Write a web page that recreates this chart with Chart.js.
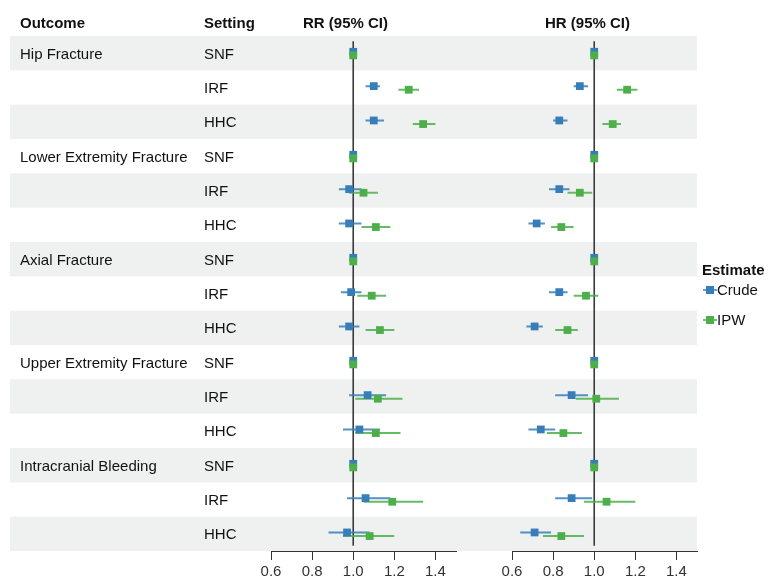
<!DOCTYPE html>
<html>
<head>
<meta charset="utf-8">
<script src="https://cdn.jsdelivr.net/npm/chart.js@4.4.1/dist/chart.umd.min.js"></script>
<style>
  body { margin: 0; background: #fff; }
  #wrap { position: relative; width: 769px; height: 576px; }
  #wrap canvas { position: absolute; left: 0; top: 0; }
</style>
</head>
<body>
<div id="wrap">
  <canvas id="rr" width="769" height="576"></canvas>
  <canvas id="hr" width="769" height="576"></canvas>
</div>
<script>
// rows: each outcome x each setting, top to bottom
const outcomes = ['Hip Fracture', 'Lower Extremity Fracture', 'Axial Fracture', 'Upper Extremity Fracture', 'Intracranial Bleeding'];
const settings = ['SNF', 'IRF', 'HHC'];
const xTicks = [0.6, 0.8, 1.0, 1.2, 1.4];

// risk ratios
const rrCrude   = [1.00, 1.10, 1.10, 1.00, 0.98, 0.98, 1.00, 0.99, 0.98, 1.00, 1.07, 1.03, 1.00, 1.06, 0.97];
const rrCrudeLo = [0.995, 1.06, 1.06, 0.995, 0.93, 0.93, 0.995, 0.94, 0.93, 0.995, 0.98, 0.95, 0.995, 0.97, 0.88];
const rrCrudeHi = [1.005, 1.13, 1.15, 1.005, 1.04, 1.04, 1.005, 1.04, 1.03, 1.005, 1.16, 1.13, 1.005, 1.18, 1.08];
const rrIpw     = [1.00, 1.27, 1.34, 1.00, 1.05, 1.11, 1.00, 1.09, 1.13, 1.00, 1.12, 1.11, 1.00, 1.19, 1.08];
const rrIpwLo   = [0.995, 1.22, 1.29, 0.995, 0.98, 1.04, 0.995, 1.02, 1.06, 0.995, 1.01, 1.01, 0.995, 1.05, 0.95];
const rrIpwHi   = [1.005, 1.32, 1.40, 1.005, 1.12, 1.18, 1.005, 1.16, 1.20, 1.005, 1.24, 1.23, 1.005, 1.34, 1.20];

// hazard ratios
const hrCrude   = [1.00, 0.93, 0.83, 1.00, 0.83, 0.72, 1.00, 0.83, 0.71, 1.00, 0.89, 0.74, 1.00, 0.89, 0.71];
const hrCrudeLo = [0.995, 0.90, 0.80, 0.995, 0.78, 0.68, 0.995, 0.78, 0.67, 0.995, 0.81, 0.68, 0.995, 0.81, 0.64];
const hrCrudeHi = [1.005, 0.97, 0.87, 1.005, 0.88, 0.76, 1.005, 0.87, 0.75, 1.005, 0.97, 0.81, 1.005, 0.99, 0.79];
const hrIpw     = [1.00, 1.16, 1.09, 1.00, 0.93, 0.84, 1.00, 0.96, 0.87, 1.00, 1.01, 0.85, 1.00, 1.06, 0.84];
const hrIpwLo   = [0.995, 1.11, 1.04, 0.995, 0.87, 0.79, 0.995, 0.90, 0.81, 0.995, 0.91, 0.77, 0.995, 0.95, 0.75];
const hrIpwHi   = [1.005, 1.21, 1.13, 1.005, 0.99, 0.90, 1.005, 1.02, 0.92, 1.005, 1.12, 0.94, 1.005, 1.20, 0.95];

const BLUE = '#377eb8';
const GREEN = '#4daf4a';
const FONT = "Arial, 'Liberation Sans', sans-serif";
const FS = 15;
const nRows = outcomes.length * settings.length;

// small vertical nudge so crude sits above IPW within a row
const CRUDE_DY = -0.04, IPW_DY = 0.065;

function points(vals, dy) {
  return vals.map((v, i) => ({ x: v, y: i + dy }));
}
function segments(lo, hi, dy) {
  const out = [];
  lo.forEach((l, i) => {
    out.push({ x: l, y: i + dy }, { x: hi[i], y: i + dy }, { x: NaN, y: NaN });
  });
  return out;
}

// grey bands + all text, drawn on the first canvas
const decor = {
  id: 'decor',
  beforeDraw(chart) {
    const { ctx, scales: { y } } = chart;
    ctx.save();
    ctx.fillStyle = '#eef1f0';
    for (let i = 0; i < nRows; i += 2) {
      const t = y.getPixelForValue(i - 0.5), b = y.getPixelForValue(i + 0.5);
      ctx.fillRect(10, t, 687, b - t);
    }
    ctx.restore();
  },
  afterDraw(chart) {
    const { ctx, scales: { y } } = chart;
    ctx.save();
    ctx.fillStyle = '#111';
    ctx.textBaseline = 'middle';
    ctx.font = 'bold ' + FS + 'px ' + FONT;
    ctx.fillText('Outcome', 20, 23.5);
    ctx.fillText('Setting', 204, 23.5);
    ctx.fillText('RR (95% CI)', 303, 23.5);
    ctx.fillText('HR (95% CI)', 545, 23.5);
    ctx.font = FS + 'px ' + FONT;
    for (let i = 0; i < nRows; i++) {
      const py = y.getPixelForValue(i) + 1.5;
      if (i % 3 === 0) ctx.fillText(outcomes[i / 3], 20, py);
      ctx.fillText(settings[i % 3], 204, py);
    }
    // legend
    ctx.font = 'bold ' + FS + 'px ' + FONT;
    ctx.fillText('Estimate', 702, 271);
    [['Crude', BLUE, 290], ['IPW', GREEN, 320]].forEach(([lab, col, ly]) => {
      ctx.strokeStyle = col;
      ctx.lineWidth = 1.5;
      ctx.beginPath(); ctx.moveTo(703, ly); ctx.lineTo(717, ly); ctx.stroke();
      ctx.fillStyle = col;
      ctx.fillRect(706, ly - 4, 8, 8);
      ctx.fillStyle = '#111';
      ctx.font = FS + 'px ' + FONT;
      ctx.fillText(lab, 717, ly + 1);
    });
    ctx.restore();
  }
};

function makePanel(id, left, right, crude, cLo, cHi, ipw, iLo, iHi, plugins) {
  return new Chart(document.getElementById(id), {
    type: 'scatter',
    data: {
      datasets: [
        { data: points(ipw, IPW_DY), backgroundColor: GREEN, pointStyle: 'rect', pointRadius: 5.5, pointBorderWidth: 0, order: 0 },
        { data: points(crude, CRUDE_DY), backgroundColor: BLUE, pointStyle: 'rect', pointRadius: 5.5, pointBorderWidth: 0, order: 1 },
        { data: segments(iLo, iHi, IPW_DY), showLine: true, spanGaps: false, borderColor: 'rgba(77,175,74,0.85)', borderWidth: 2, pointRadius: 0, order: 2 },
        { data: segments(cLo, cHi, CRUDE_DY), showLine: true, spanGaps: false, borderColor: 'rgba(55,126,184,0.85)', borderWidth: 2, pointRadius: 0, order: 3 },
        { data: [{ x: 1, y: -0.35 }, { x: 1, y: nRows - 0.65 }], showLine: true, borderColor: '#3a3a3a', borderWidth: 1.6, pointRadius: 0, order: 4 }
      ]
    },
    options: {
      responsive: false,
      animation: false,
      events: [],
      layout: { padding: { left: left, right: 769 - right, top: 36, bottom: 0 } },
      plugins: { legend: { display: false }, tooltip: { enabled: false } },
      scales: {
        x: {
          type: 'linear', min: 0.6, max: 1.5,
          afterBuildTicks: s => { s.ticks = xTicks.map(v => ({ value: v })); },
          afterFit: s => { s.height = 25; },
          grid: { drawOnChartArea: false, drawTicks: true, tickLength: 9, color: '#333', lineWidth: 1 },
          border: { display: true, color: '#333', width: 1 },
          ticks: { color: '#333', padding: 3, font: { family: FONT, size: FS }, callback: v => v.toFixed(1) }
        },
        y: { type: 'linear', min: -0.5, max: nRows - 0.5, reverse: true, display: false }
      }
    },
    plugins: plugins
  });
}

makePanel('rr', 271, 456, rrCrude, rrCrudeLo, rrCrudeHi, rrIpw, rrIpwLo, rrIpwHi, [decor]);
makePanel('hr', 512, 697, hrCrude, hrCrudeLo, hrCrudeHi, hrIpw, hrIpwLo, hrIpwHi, []);
</script>
</body>
</html>
